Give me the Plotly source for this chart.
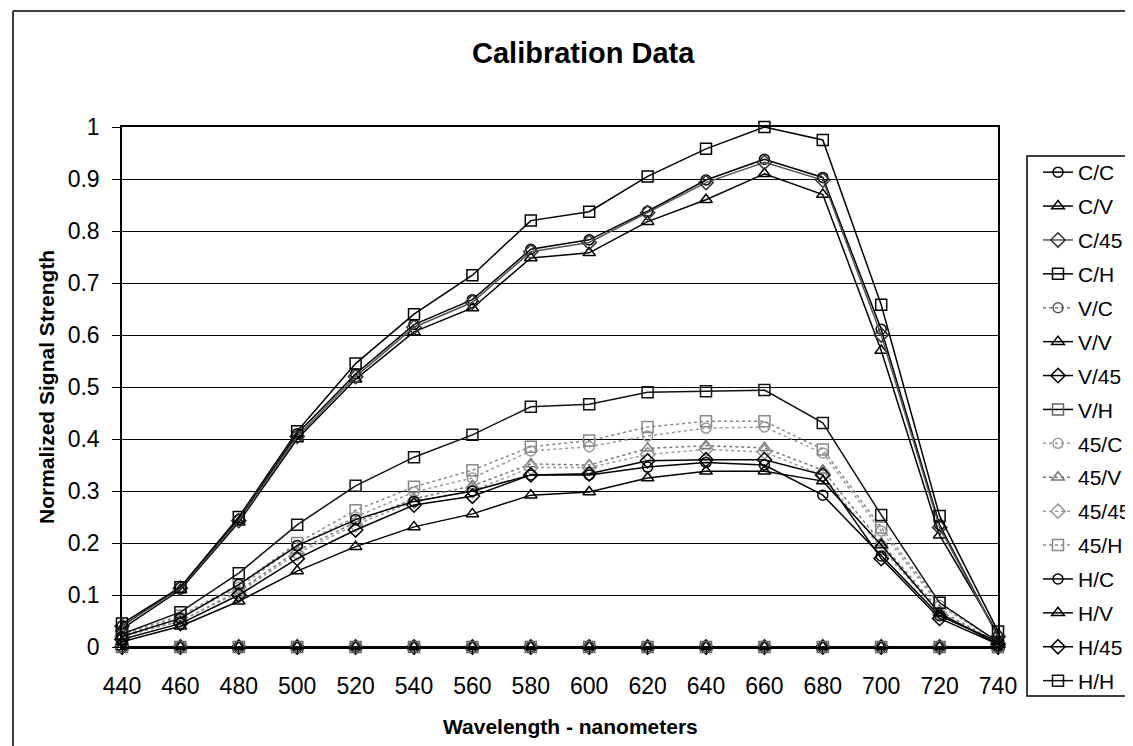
import plotly.graph_objects as go

wavelength = [440, 460, 480, 500, 520, 540, 560, 580, 600, 620, 640, 660, 680, 700, 720, 740]
tick_labels = [str(w) for w in wavelength]

c_c = [0.040, 0.115, 0.245, 0.410, 0.525, 0.620, 0.668, 0.765, 0.783, 0.838, 0.898, 0.938, 0.903, 0.611, 0.235, 0.020]
c_v = [0.035, 0.110, 0.240, 0.400, 0.515, 0.606, 0.652, 0.748, 0.758, 0.818, 0.860, 0.910, 0.870, 0.570, 0.215, 0.025]
c_45 = [0.040, 0.113, 0.243, 0.405, 0.520, 0.615, 0.663, 0.760, 0.778, 0.835, 0.893, 0.932, 0.898, 0.600, 0.230, 0.020]
c_h = [0.045, 0.115, 0.250, 0.415, 0.545, 0.640, 0.715, 0.820, 0.837, 0.905, 0.958, 1.000, 0.975, 0.658, 0.252, 0.030]
v_c = [0.0] * 16
v_v = [0.0] * 16
v_45 = [0.0] * 16
v_h = [0.0] * 16
d45_c = [0.022, 0.057, 0.115, 0.195, 0.250, 0.298, 0.325, 0.377, 0.385, 0.406, 0.421, 0.423, 0.373, 0.223, 0.080, 0.010]
d45_v = [0.020, 0.050, 0.108, 0.185, 0.240, 0.285, 0.310, 0.352, 0.350, 0.382, 0.387, 0.383, 0.340, 0.200, 0.070, 0.008]
d45_45 = [0.020, 0.050, 0.105, 0.180, 0.235, 0.280, 0.300, 0.345, 0.345, 0.370, 0.380, 0.375, 0.330, 0.190, 0.065, 0.008]
d45_h = [0.025, 0.060, 0.120, 0.200, 0.263, 0.308, 0.340, 0.385, 0.397, 0.423, 0.434, 0.434, 0.380, 0.230, 0.085, 0.010]
h_c = [0.020, 0.055, 0.120, 0.195, 0.245, 0.280, 0.300, 0.331, 0.331, 0.346, 0.355, 0.350, 0.292, 0.175, 0.060, 0.010]
h_v = [0.010, 0.040, 0.088, 0.146, 0.193, 0.231, 0.256, 0.292, 0.298, 0.325, 0.338, 0.338, 0.319, 0.196, 0.065, 0.005]
h_45 = [0.015, 0.045, 0.100, 0.170, 0.225, 0.273, 0.290, 0.331, 0.333, 0.358, 0.360, 0.360, 0.331, 0.170, 0.055, 0.005]
h_h = [0.025, 0.067, 0.142, 0.235, 0.310, 0.365, 0.408, 0.462, 0.467, 0.490, 0.492, 0.494, 0.431, 0.254, 0.085, 0.010]

series_names = ["C/C", "C/V", "C/45", "C/H", "V/C", "V/V", "V/45", "V/H",
                "45/C", "45/V", "45/45", "45/H", "H/C", "H/V", "H/45", "H/H"]
series_values = [c_c, c_v, c_45, c_h, v_c, v_v, v_45, v_h,
                 d45_c, d45_v, d45_45, d45_h, h_c, h_v, h_45, h_h]

symbols = ["circle-open", "triangle-up-open", "diamond-open", "square-open"] * 4
sizes = {"circle-open": 10, "triangle-up-open": 11, "diamond-open": 11, "square-open": 11}
# line colour, dash, marker colour
styles = [
    ("#000000", "solid", "#000000"), ("#000000", "solid", "#000000"),
    ("#555555", "solid", "#333333"), ("#000000", "solid", "#000000"),
    ("#777777", "dot", "#555555"), ("#000000", "solid", "#000000"),
    ("#000000", "solid", "#000000"), ("#000000", "solid", "#666666"),
    ("#999999", "dot", "#999999"), ("#777777", "dot", "#777777"),
    ("#999999", "dot", "#999999"), ("#888888", "dot", "#888888"),
    ("#000000", "solid", "#000000"), ("#000000", "solid", "#000000"),
    ("#000000", "solid", "#000000"), ("#111111", "solid", "#111111"),
]
# drawing order (zero-level diamonds go underneath squares/triangles)
draw_order = [6, 4, 5, 7, 0, 1, 2, 3, 8, 9, 10, 11, 12, 13, 14, 15]

W, H = 1133, 746
L, R, T, B = 114, 990, 119, 639
pw, ph = R - L, B - T


def px(xp):
    return (xp - L) / pw


def py(yp):
    return (B - yp) / ph


fig = go.Figure()
for i in draw_order:
    name, vals = series_names[i], series_values[i]
    lc, dash, mc = styles[i]
    sym = symbols[i]
    fig.add_trace(go.Scatter(
        x=wavelength, y=vals, name=name, mode="lines+markers",
        legendgroup=name, legendrank=1000 + i,
        line=dict(color=lc, width=1.5, dash=dash),
        marker=dict(symbol=sym, size=sizes[sym], color=mc, line=dict(width=1.5, color=mc)),
        cliponaxis=False,
    ))

font_family = "Liberation Sans, Arial, sans-serif"

fig.update_layout(
    width=W, height=H,
    margin=dict(l=L, r=W - R, t=T, b=H - B, autoexpand=False),
    plot_bgcolor="white", paper_bgcolor="white",
    font=dict(family=font_family, size=23, color="black"),
    showlegend=True,
    legend=dict(
        x=px(1030), y=py(144), xanchor="left", yanchor="top",
        font=dict(family=font_family, size=21, color="black"),
        bgcolor="rgba(0,0,0,0)", borderwidth=0,
        traceorder="grouped", tracegroupgap=3.6, itemwidth=30,
        maxheight=700,
    ),
    xaxis=dict(
        range=[440, 740], tickvals=wavelength, ticktext=tick_labels,
        showgrid=False, showline=True, linecolor="black", linewidth=1.5,
        ticks="outside", ticklen=6, tickcolor="black", mirror=True,
        ticklabelstandoff=12, zeroline=False,
        tickfont=dict(size=23),
    ),
    yaxis=dict(
        range=[0, 1], dtick=0.1, tick0=0,
        showgrid=True, gridcolor="black", gridwidth=1,
        showline=True, linecolor="black", linewidth=1.5, mirror=True,
        ticks="outside", ticklen=8, tickcolor="black",
        ticklabelstandoff=8, zeroline=False,
        tickfont=dict(size=23),
    ),
    annotations=[
        dict(text="<b>Calibration Data</b>", xref="paper", yref="paper",
             x=px(575), y=py(45), xanchor="center", yanchor="middle",
             showarrow=False, font=dict(size=29)),
        dict(text="<b>Wavelength - nanometers</b>", xref="paper", yref="paper",
             x=px(562), y=py(718), xanchor="center", yanchor="middle",
             showarrow=False, font=dict(size=21)),
        dict(text="<b>Normalized Signal Strength</b>", xref="paper", yref="paper",
             x=px(38), y=py(379), xanchor="center", yanchor="middle", textangle=-90,
             showarrow=False, font=dict(size=21)),
    ],
    shapes=[
        dict(type="rect", xref="paper", yref="paper",
             x0=px(1019), x1=px(1145), y0=py(688), y1=py(148),
             line=dict(color="black", width=1.5), fillcolor="rgba(0,0,0,0)", layer="above"),
        dict(type="line", xref="paper", yref="paper",
             x0=px(5), x1=px(5), y0=py(3), y1=py(750),
             line=dict(color="black", width=1.5)),
        dict(type="line", xref="paper", yref="paper",
             x0=px(5), x1=px(1140), y0=py(3), y1=py(3),
             line=dict(color="black", width=1.5)),
    ],
)

fig.write_html("out.html")
